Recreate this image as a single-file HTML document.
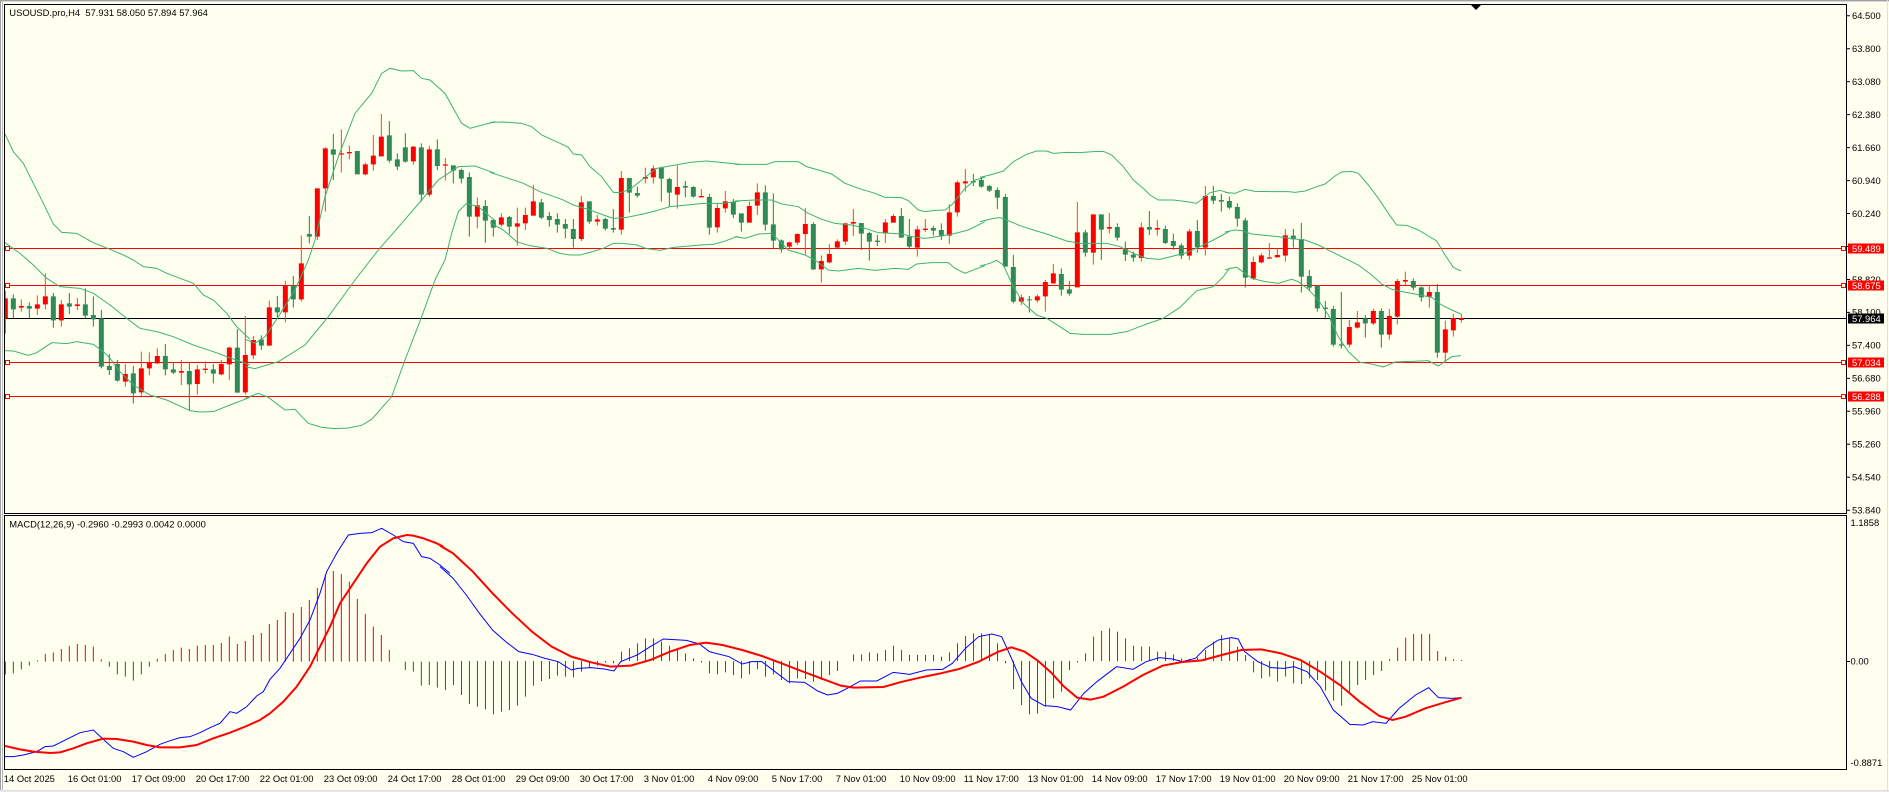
<!DOCTYPE html>
<html><head><meta charset="utf-8"><style>
html,body{margin:0;padding:0;background:#FFFFF0;}
svg{display:block;}
svg path,svg polyline,svg line,svg rect{vector-effect:non-scaling-stroke;}
text{font-family:"Liberation Sans",sans-serif;font-size:9.4px;fill:#000;}
</style></head><body>
<svg width="1889" height="792" viewBox="0 0 1889 792" xmlns="http://www.w3.org/2000/svg">
<defs>
<clipPath id="cm"><rect x="5" y="5" width="1841" height="508"/></clipPath>
<clipPath id="cd"><rect x="5" y="516" width="1841" height="253"/></clipPath>
</defs>
<rect x="0" y="0" width="1889" height="792" fill="#FFFFF0"/>
<line x1="0" y1="0.5" x2="1889" y2="0.5" stroke="#A0A0A0"/>
<line x1="0" y1="1.5" x2="1889" y2="1.5" stroke="#D8D8D8"/>
<line x1="0.5" y1="0" x2="0.5" y2="792" stroke="#A0A0A0"/>
<line x1="2.5" y1="0" x2="2.5" y2="792" stroke="#B8B8B8"/>
<line x1="0" y1="790.5" x2="1889" y2="790.5" stroke="#E0E0E0"/>
<line x1="0" y1="791.5" x2="1889" y2="791.5" stroke="#E8E8E8"/>
<line x1="1887.5" y1="0" x2="1887.5" y2="792" stroke="#E0E0E0"/>

<!-- MAIN PANEL -->
<g clip-path="url(#cm)">
<g stroke-width="1" fill="none">
<line x1="5" y1="248.5" x2="1846" y2="248.5" stroke="#FF0000"/>
<line x1="5" y1="285.5" x2="1846" y2="285.5" stroke="#FF0000"/>
<line x1="5" y1="318.5" x2="1846" y2="318.5" stroke="#000000"/>
<line x1="5" y1="362.5" x2="1846" y2="362.5" stroke="#FF0000"/>
<line x1="5" y1="396.5" x2="1846" y2="396.5" stroke="#FF0000"/>
</g>
<g stroke="#FF0000" fill="#FFFFF0">
<rect x="5.5" y="246.5" width="4" height="4"/><rect x="1841.5" y="246.5" width="4" height="4"/>
<rect x="5.5" y="283.5" width="4" height="4"/><rect x="1841.5" y="283.5" width="4" height="4"/>
<rect x="5.5" y="360.5" width="4" height="4"/><rect x="1841.5" y="360.5" width="4" height="4"/>
<rect x="5.5" y="394.5" width="4" height="4"/><rect x="1841.5" y="394.5" width="4" height="4"/>
</g>

<!-- zoom6 region -->
<g transform="translate(0,60) scale(0.333333)">
<path stroke="#228B22" fill="none" d="M40 703V775 M88 727V775 M160 699V803 M208 699V762 M256 685V775 M280 709V800 M304 750V925 M328 882V945 M352 900V965 M400 918V1030 M496 852V946 M520 908V942 M568 908V1052 M640 912V970 M712 807V998"/>
<path stroke="#FF4500" fill="none" d="M16 693V820 M64 718V755 M112 706V765 M136 640V748 M184 720V800 M232 714V750 M376 912V980 M424 875V1012 M448 877V946 M472 865V912 M544 900V975 M592 915V1004 M616 904V940 M664 900V946 M688 860V960 M736 768V1004"/>
<path fill="#2E8B57" d="M32.5 715h15V748h-15Z M80.5 738h15V746h-15Z M152.5 709h15V781h-15Z M200.5 730h15V740h-15Z M248.5 733h15V767h-15Z M272.5 765h15V778h-15Z M296.5 775h15V920h-15Z M320.5 918h15V930h-15Z M344.5 912h15V962h-15Z M392.5 940h15V1000h-15Z M488.5 888h15V928h-15Z M512.5 928h15V938h-15Z M560.5 933h15V973h-15Z M632.5 928h15V941h-15Z M704.5 863h15V998h-15Z"/>
<path fill="#FF0000" d="M8.5 715h15V775h-15Z M56.5 738h15V743h-15Z M104.5 733h15V746h-15Z M128.5 709h15V733h-15Z M176.5 733h15V781h-15Z M224.5 733h15V738h-15Z M368.5 942h15V965h-15Z M416.5 925h15V997h-15Z M440.5 908h15V925h-15Z M464.5 888h15V910h-15Z M536.5 933h15V938h-15Z M584.5 928h15V972h-15Z M608.5 926h15V930h-15Z M656.5 912h15V943h-15Z M680.5 863h15V913h-15Z M728.5 885h15V997h-15Z"/>
<g stroke="#3CB371" fill="none">
<polyline points="15,222 40,275 70,310 100,370 130,430 160,492 185,517 230,520 280,548 330,568 370,585 400,600 430,620 470,625 500,640 540,655 580,670 610,705 640,720 680,760 710,800 750,838"/>
<polyline points="15,548 60,580 100,615 140,655 180,680 240,685 280,700 330,735 380,775 420,805 470,815 520,830 580,855 640,875 700,897 750,915"/>
<polyline points="15,872 40,873 85,886 110,878 155,848 200,851 230,845 280,853 310,875 330,895 360,935 400,975 450,1005 500,1020 570,1052 600,1056 640,1055 690,1035 750,1012"/>
</g>
</g>

<!-- zoom7 region -->
<g transform="translate(245,60) scale(0.333333)">
<path stroke="#228B22" fill="none" d="M49 826V870 M97 708V772 M145 648V743 M193 468V550 M265 222V360 M337 273V343 M433 183V308 M457 280V330 M481 220V308 M529 250V425 M577 238V330 M625 316V370 M649 326V370 M673 337V530 M721 420V548 M745 478V530"/>
<path stroke="#FF4500" fill="none" d="M25 828V897 M73 722V857 M121 662V787 M169 526V725 M217 385V540 M241 262V455 M289 208V338 M313 256V298 M361 308V346 M385 225V332 M409 162V289 M505 258V314 M553 258V410 M601 294V362 M697 412V505"/>
<path fill="#2E8B57" d="M41.5 838h15V857h-15Z M89.5 742h15V757h-15Z M137.5 677h15V718h-15Z M185.5 522h15V530h-15Z M257.5 268h15V284h-15Z M329.5 273h15V343h-15Z M425.5 226h15V302h-15Z M449.5 298h15V320h-15Z M473.5 262h15V305h-15Z M521.5 262h15V404h-15Z M569.5 268h15V318h-15Z M617.5 316h15V332h-15Z M641.5 330h15V356h-15Z M665.5 351h15V470h-15Z M713.5 438h15V482h-15Z M737.5 480h15V503h-15Z"/>
<path fill="#FF0000" d="M17.5 840h15V886h-15Z M65.5 742h15V857h-15Z M113.5 677h15V757h-15Z M161.5 610h15V718h-15Z M209.5 385h15V530h-15Z M233.5 265h15V385h-15Z M281.5 280h15V284h-15Z M305.5 276h15V280h-15Z M353.5 313h15V343h-15Z M377.5 287h15V313h-15Z M401.5 230h15V289h-15Z M497.5 260h15V304h-15Z M545.5 268h15V404h-15Z M593.5 313h15V317h-15Z M689.5 436h15V470h-15Z"/>
<g stroke="#3CB371" fill="none">
<polyline points="0,838 30,850 60,830 100,770 150,690 190,600 210,540 240,410 280,290 330,160 380,100 410,40 435,25 470,33 505,32 530,55 555,60 600,100 650,190 675,205 750,185"/>
<polyline points="0,920 30,926 100,905 180,855 250,770 330,660 400,570 470,490 530,420 580,360 640,320 690,318 750,340"/>
<polyline points="0,1015 40,1000 70,1012 120,1050 150,1048 190,1090 230,1102 270,1106 310,1104 350,1096 380,1078 440,1010 480,900 530,770 570,660 600,600 620,520 640,455 665,430 700,440 750,482"/>
</g>
</g>

<!-- zoom8 region -->
<g transform="translate(490,60) scale(0.333333)">
<path stroke="#228B22" fill="none" d="M58 468V522 M154 417V477 M178 456V500 M202 460V518 M226 477V535 M250 477V563 M298 424V491 M346 474V512 M370 447V518 M418 354V458 M442 380V413 M514 320V425 M538 353V441 M586 363V412 M610 378V413 M658 402V524 M730 417V474"/>
<path stroke="#FF4500" fill="none" d="M34 460V500 M82 443V557 M106 443V510 M130 375V467 M274 408V543 M322 465V497 M394 333V524 M466 323V370 M490 316V371 M562 316V446 M634 387V412 M682 432V518 M706 393V458"/>
<path fill="#2E8B57" d="M50.5 471h15V500h-15Z M146.5 427h15V473h-15Z M170.5 468h15V480h-15Z M194.5 477h15V494h-15Z M218.5 492h15V506h-15Z M242.5 507h15V537h-15Z M290.5 424h15V485h-15Z M338.5 477h15V506h-15Z M362.5 504h15V509h-15Z M410.5 354h15V398h-15Z M434.5 399h15V407h-15Z M506.5 323h15V356h-15Z M530.5 357h15V398h-15Z M578.5 378h15V383h-15Z M602.5 381h15V410h-15Z M650.5 411h15V503h-15Z M722.5 426h15V464h-15Z"/>
<path fill="#FF0000" d="M26.5 472h15V494h-15Z M74.5 490h15V500h-15Z M98.5 465h15V490h-15Z M122.5 424h15V467h-15Z M266.5 427h15V537h-15Z M314.5 478h15V485h-15Z M386.5 354h15V509h-15Z M458.5 351h15V356h-15Z M482.5 325h15V352h-15Z M554.5 381h15V404h-15Z M626.5 408h15V412h-15Z M674.5 444h15V502h-15Z M698.5 424h15V445h-15Z"/>
<g stroke="#3CB371" fill="none">
<polyline points="0,187 40,186 95,190 125,200 155,225 210,250 235,262 250,282 275,285 300,320 335,350 370,397 390,398 420,388 455,360 500,325 540,318 600,307 650,303 700,308 750,313"/>
<polyline points="0,337 40,350 100,370 150,395 215,418 250,435 300,450 340,465 370,475 410,472 460,462 500,452 540,440 580,436 640,430 700,430 750,423"/>
<polyline points="0,488 40,510 80,545 120,557 170,565 210,580 240,585 270,585 300,577 340,565 370,550 400,550 440,555 470,566 510,571 550,562 600,558 630,555 670,553 700,545 740,530 750,532"/>
</g>
</g>

<!-- zoom9 region -->
<g transform="translate(735,60) scale(0.333333)">
<path stroke="#228B22" fill="none" d="M19 460V515 M91 376V512 M115 400V565 M139 538V578 M235 487V630 M379 489V570 M403 515V602 M427 525V558 M499 444V533 M523 477V565 M595 498V527 M619 490V540 M715 342V378"/>
<path stroke="#FF4500" fill="none" d="M43 425V488 M67 370V465 M163 545V565 M187 520V555 M211 444V583 M259 586V668 M283 552V610 M307 538V565 M331 488V555 M355 447V528 M451 477V549 M475 462V488 M547 498V590 M571 477V516 M643 432V552 M667 362V470 M691 327V395"/>
<path fill="#2E8B57" d="M11.5 460h15V488h-15Z M83.5 397h15V494h-15Z M107.5 493h15V542h-15Z M131.5 541h15V568h-15Z M227.5 492h15V628h-15Z M371.5 489h15V521h-15Z M395.5 519h15V545h-15Z M419.5 542h15V546h-15Z M491.5 468h15V533h-15Z M515.5 530h15V560h-15Z M587.5 504h15V512h-15Z M611.5 510h15V527h-15Z M707.5 363h15V367h-15Z"/>
<path fill="#FF0000" d="M35.5 438h15V488h-15Z M59.5 397h15V437h-15Z M155.5 547h15V560h-15Z M179.5 522h15V548h-15Z M203.5 492h15V522h-15Z M251.5 603h15V628h-15Z M275.5 582h15V607h-15Z M299.5 544h15V563h-15Z M323.5 490h15V545h-15Z M347.5 486h15V491h-15Z M443.5 487h15V520h-15Z M467.5 468h15V488h-15Z M539.5 508h15V563h-15Z M563.5 506h15V510h-15Z M635.5 457h15V527h-15Z M659.5 367h15V457h-15Z M683.5 364h15V370h-15Z"/>
<g stroke="#3CB371" fill="none">
<polyline points="0,313 95,313 120,305 190,305 215,320 250,330 290,342 330,370 370,385 420,400 450,412 500,413 520,422 550,450 570,455 600,451 630,450 650,435 690,385 720,360 750,352"/>
<polyline points="0,423 60,420 110,420 140,432 190,440 220,460 260,478 300,490 350,495 390,505 430,518 470,520 500,522 530,530 570,535 620,528 660,520 700,510 750,485"/>
<polyline points="0,530 30,535 70,522 110,520 160,570 210,585 240,600 280,630 310,633 370,625 420,631 480,625 520,628 545,612 590,608 640,608 660,625 690,640 720,628 750,617"/>
</g>
</g>

<!-- zoom10 region -->
<g transform="translate(980,60) scale(0.333333)">
<path stroke="#228B22" fill="none" d="M4 352V383 M28 375V396 M52 382V447 M76 402V620 M100 585V730 M148 708V758 M244 625V707 M268 663V707 M316 510V590 M364 463V600 M412 490V542 M436 545V603 M460 575V605 M508 453V525 M556 497V552 M580 521V570 M604 550V597 M652 480V578 M700 378V432 M724 402V455"/>
<path stroke="#FF4500" fill="none" d="M124 703V735 M172 703V728 M196 660V755 M220 612V672 M292 426V682 M340 463V614 M388 459V521 M484 487V605 M532 480V527 M628 507V600 M676 378V587"/>
<path fill="#2E8B57" d="M-3.5 360h15V380h-15Z M20.5 378h15V392h-15Z M44.5 390h15V413h-15Z M68.5 411h15V620h-15Z M92.5 621h15V725h-15Z M140.5 718h15V721h-15Z M236.5 642h15V689h-15Z M260.5 688h15V701h-15Z M308.5 517h15V578h-15Z M356.5 463h15V509h-15Z M404.5 501h15V533h-15Z M428.5 567h15V584h-15Z M452.5 584h15V593h-15Z M500.5 501h15V509h-15Z M548.5 507h15V549h-15Z M572.5 543h15V558h-15Z M596.5 556h15V587h-15Z M644.5 513h15V562h-15Z M692.5 408h15V422h-15Z M716.5 420h15V425h-15Z"/>
<path fill="#FF0000" d="M116.5 712h15V725h-15Z M164.5 709h15V721h-15Z M188.5 666h15V709h-15Z M212.5 640h15V670h-15Z M284.5 517h15V682h-15Z M332.5 463h15V578h-15Z M380.5 501h15V506h-15Z M476.5 502h15V594h-15Z M524.5 504h15V509h-15Z M620.5 514h15V587h-15Z M668.5 408h15V563h-15Z"/>
<g stroke="#3CB371" fill="none">
<polyline points="0,352 30,345 70,333 100,305 140,283 170,273 200,273 220,280 260,277 300,278 340,275 370,274 395,285 430,320 460,360 490,385 510,405 535,420 580,420 620,425 650,430 690,398 720,391 750,400"/>
<polyline points="0,485 40,475 60,473 80,480 120,497 160,510 200,522 260,543 300,550 340,550 380,550 420,560 460,580 500,595 540,598 580,588 620,578 660,560 700,540 750,513"/>
<polyline points="0,618 30,610 50,601 70,615 100,680 130,730 170,765 200,775 240,800 270,820 310,823 390,823 440,815 500,792 550,775 600,742 650,692 700,680 730,650 750,623"/>
</g>
</g>

<!-- zoom11 region -->
<g transform="translate(1225,60) scale(0.333333)">
<path stroke="#228B22" fill="none" d="M13 410V448 M37 430V500 M61 474V683 M205 507V563 M229 489V698 M253 630V693 M277 677V755 M301 723V778 M325 738V860 M349 696V866 M421 765V833 M469 745V863 M565 655V691 M589 680V725 M637 672V893"/>
<path stroke="#FF4500" fill="none" d="M85 590V660 M109 580V610 M133 549V596 M157 566V592 M181 507V605 M373 780V863 M397 753V806 M445 746V795 M493 747V839 M517 657V793 M541 635V676 M613 677V743 M661 782V908 M685 762V830 M709 762V788"/>
<path fill="#2E8B57" d="M5.5 423h15V443h-15Z M29.5 441h15V476h-15Z M53.5 481h15V653h-15Z M197.5 527h15V538h-15Z M221.5 537h15V650h-15Z M245.5 648h15V683h-15Z M269.5 677h15V745h-15Z M293.5 743h15V747h-15Z M317.5 747h15V854h-15Z M341.5 853h15V857h-15Z M413.5 775h15V790h-15Z M461.5 753h15V824h-15Z M557.5 663h15V683h-15Z M581.5 682h15V712h-15Z M629.5 696h15V878h-15Z"/>
<path fill="#FF0000" d="M77.5 606h15V655h-15Z M101.5 586h15V607h-15Z M125.5 592h15V596h-15Z M149.5 585h15V592h-15Z M173.5 526h15V587h-15Z M365.5 801h15V854h-15Z M389.5 787h15V803h-15Z M437.5 753h15V790h-15Z M485.5 768h15V824h-15Z M509.5 663h15V770h-15Z M533.5 660h15V665h-15Z M605.5 696h15V710h-15Z M653.5 808h15V878h-15Z M677.5 774h15V811h-15Z M701.5 774h15V780h-15Z"/>
<g stroke="#3CB371" fill="none">
<polyline points="0,397 30,400 60,388 90,394 140,395 190,395 210,397 240,393 270,382 300,372 330,348 350,336 380,334 400,340 430,375 460,415 490,460 515,495 545,496 580,510 610,528 635,543 660,585 685,622 708,633"/>
<polyline points="0,516 30,510 50,512 80,522 120,526 160,530 200,536 240,540 280,555 320,575 360,595 400,615 440,645 470,672 500,688 530,695 560,700 590,706 620,712 650,735 680,750 708,762"/>
<polyline points="0,630 15,625 35,622 60,640 80,655 120,665 160,670 200,658 220,665 250,688 280,720 310,765 340,830 370,875 405,907 440,912 475,921 510,906 560,904 610,902 640,918 680,890 708,887"/>
</g>
</g>
</g>

<!-- chart shift marker -->
<polygon points="1470,4 1482,4 1476,10" fill="#000"/>

<!-- MACD PANEL -->
<g clip-path="url(#cd)">
<g transform="translate(0,490) scale(0.333333)">
<path stroke="#FF0000" fill="none" d="M112 515V511 M136 515V492 M160 515V488 M184 515V477 M208 515V468 M232 515V462 M256 515V465 M280 515V470 M304 515V508 M472 515V507 M496 515V492 M520 515V480 M544 515V473 M568 515V477 M592 515V467 M616 515V465 M640 515V465 M664 515V459 M688 515V440 M712 515V462 M736 515V453 M760 515V435 M784 515V429 M808 515V402 M832 515V390 M856 515V366 M880 515V369 M904 515V351 M928 515V330 M952 515V294 M976 515V253 M1000 515V243 M1024 515V252 M1048 515V275 M1072 515V327 M1096 515V372 M1120 515V410 M1144 515V435 M1168 515V480"/>
<path stroke="#008000" fill="none" d="M16 515V553 M40 515V550 M64 515V538 M88 515V527 M328 515V530 M352 515V553 M376 515V560 M400 515V572 M424 515V553 M448 515V530 M1216 515V540 M1240 515V545 M1264 515V587 M1288 515V585 M1312 515V593"/>
<polyline fill="none" stroke="#0000FF" stroke-width="1" points="15,800 40,800 70,795 110,785 135,770 160,768 200,748 240,728 280,720 310,748 340,775 370,785 400,802 440,785 480,763 510,752 540,743 570,740 600,728 630,713 660,700 690,665 710,670 740,650 770,618 790,605 810,568 840,535 870,490 900,445 930,390 960,310 980,245 1010,190 1045,135 1080,130 1115,128 1145,115 1180,135 1210,155 1240,160 1265,200 1290,205 1320,225 1350,250"/>
<polyline fill="none" stroke="#FF0000" stroke-width="2" points="15,768 60,778 100,785 150,789 180,787 220,775 260,760 310,746 350,747 400,755 440,765 480,772 540,772 590,765 640,745 690,728 740,708 780,690 810,670 850,635 890,590 930,530 960,470 990,410 1020,340 1060,280 1100,220 1140,170 1180,145 1220,135 1240,137 1270,145 1310,160 1330,170"/>
</g>
<g transform="translate(440,515) scale(0.6569,0.333333)">
<path stroke="#FF0000" fill="none" d="M276.3 438V410 M288.4 438V400 M300.6 438V385 M312.8 438V370 M325 438V370 M337.2 438V380 M349.3 438V392 M361.5 438V405 M373.7 438V415 M385.9 438V430 M629.5 438V418 M641.7 438V418 M653.8 438V412 M666 438V415 M678.2 438V405 M690.4 438V392 M702.6 438V405 M714.7 438V420 M726.9 438V420 M739.1 438V420 M751.3 438V420 M763.5 438V425 M775.6 438V412 M787.8 438V385 M800 438V363 M812.2 438V355 M824.4 438V355 M836.5 438V360 M848.7 438V385 M982.7 438V415 M994.9 438V365 M1007.1 438V348 M1019.2 438V340 M1031.4 438V350 M1043.6 438V370 M1055.8 438V392 M1068 438V395 M1080.1 438V395 M1092.3 438V410 M1104.5 438V410 M1116.7 438V418 M1128.9 438V430 M1141 438V432 M1153.2 438V428 M1165.4 438V405 M1177.6 438V380 M1189.8 438V360 M1202 438V370 M1214.1 438V395 M1226.3 438V420 M1445.6 438V432 M1457.8 438V398 M1470 438V368 M1482.1 438V357 M1494.3 438V357 M1506.5 438V357 M1518.7 438V408 M1530.9 438V425 M1543 438V433 M1555.2 438V435"/>
<path stroke="#008000" fill="none" d="M8.3 438V525 M20.5 438V510 M32.7 438V540 M44.8 438V567 M57 438V575 M69.2 438V583 M81.4 438V598 M93.6 438V590 M105.7 438V585 M117.9 438V572 M130.1 438V545 M142.3 438V512 M154.5 438V498 M166.6 438V492 M178.8 438V482 M191 438V485 M203.2 438V487 M215.4 438V470 M227.5 438V457 M239.7 438V452 M251.9 438V442 M264.1 438V445 M398.1 438V442 M410.2 438V475 M422.4 438V478 M434.6 438V472 M446.8 438V480 M459 438V490 M471.1 438V478 M483.3 438V462 M495.5 438V485 M507.7 438V478 M519.9 438V495 M532 438V505 M544.2 438V490 M556.4 438V492 M568.6 438V500 M580.8 438V495 M592.9 438V480 M605.1 438V468 M860.9 438V445 M873.1 438V522 M885.3 438V570 M897.4 438V598 M909.6 438V596 M921.8 438V575 M934 438V550 M946.2 438V530 M958.3 438V465 M970.5 438V442 M1238.5 438V472 M1250.7 438V490 M1262.9 438V485 M1275 438V500 M1287.2 438V485 M1299.4 438V505 M1311.6 438V507 M1323.8 438V490 M1335.9 438V495 M1348.1 438V527 M1360.3 438V557 M1372.5 438V572 M1384.7 438V538 M1396.9 438V510 M1409 438V495 M1421.2 438V480 M1433.4 438V468"/>
<polyline fill="none" stroke="#0000FF" stroke-width="1" points="0,155 20,190 40,240 60,295 80,345 100,380 120,410 140,418 160,430 180,440 200,465 210,460 230,458 250,462 265,468 275,440 300,420 320,395 340,372 375,376 395,387 410,410 440,425 460,447 475,440 490,440 510,470 530,500 555,502 575,528 590,540 605,535 620,520 640,498 665,498 690,472 715,478 740,465 765,463 780,445 800,400 820,365 840,357 855,365 870,430 885,500 900,550 920,572 940,575 960,585 980,535 1000,500 1030,455 1055,463 1075,440 1095,428 1115,432 1130,440 1150,430 1165,400 1185,375 1205,368 1215,372 1225,410 1245,440 1265,458 1285,460 1300,455 1320,470 1340,515 1360,585 1385,628 1405,630 1420,620 1440,625 1460,580 1485,540 1505,518 1520,548 1540,550 1555,548"/>
<polyline fill="none" stroke="#FF0000" stroke-width="2" points="0,92 20,115 50,170 80,235 110,295 140,350 170,395 200,425 230,442 260,455 290,452 320,435 350,410 380,390 405,383 430,390 460,405 490,423 520,445 550,468 580,490 610,512 630,518 675,516 700,502 730,488 760,476 790,462 820,440 850,410 870,397 890,410 910,437 930,472 950,515 970,548 990,554 1010,545 1040,515 1070,480 1100,452 1130,441 1160,436 1190,420 1220,405 1250,403 1280,415 1310,435 1340,470 1370,510 1400,560 1430,603 1450,615 1470,605 1500,580 1530,562 1555,548"/>
</g>
</g>

<!-- frames -->
<rect x="4.5" y="4.5" width="1842" height="509" fill="none" stroke="#000"/>
<rect x="4.5" y="515.5" width="1842" height="254" fill="none" stroke="#000"/>

<!-- price axis ticks -->
<path stroke="#000" fill="none" d="M1847 15.7h3 M1847 48.7h3 M1847 81.6h3 M1847 114.6h3 M1847 147.6h3 M1847 180.6h3 M1847 213.5h3 M1847 246.5h3 M1847 279.5h3 M1847 312.4h3 M1847 345.4h3 M1847 378.4h3 M1847 411.3h3 M1847 444.3h3 M1847 477.3h3 M1847 510.2h3 M1847 661.5h3"/>
<g>
<text x="1852" y="19">64.500</text>
<text x="1852" y="52">63.800</text>
<text x="1852" y="84.9">63.080</text>
<text x="1852" y="117.9">62.380</text>
<text x="1852" y="150.9">61.660</text>
<text x="1852" y="183.9">60.940</text>
<text x="1852" y="216.8">60.240</text>
<text x="1852" y="249.8">59.540</text>
<text x="1852" y="282.8">58.820</text>
<text x="1852" y="315.7">58.100</text>
<text x="1852" y="348.7">57.400</text>
<text x="1852" y="381.7">56.680</text>
<text x="1852" y="414.6">55.960</text>
<text x="1852" y="447.6">55.260</text>
<text x="1852" y="480.6">54.540</text>
<text x="1852" y="513.6">53.840</text>
</g>
<!-- level labels -->
<rect x="1848" y="243.5" width="36" height="10" fill="#FF0000"/>
<rect x="1848" y="280.5" width="36" height="10" fill="#FF0000"/>
<rect x="1848" y="313.5" width="36" height="10" fill="#000000"/>
<rect x="1848" y="357.5" width="36" height="10" fill="#FF0000"/>
<rect x="1848" y="391.5" width="36" height="10" fill="#FF0000"/>
<g>
<text x="1852" y="251.9" style="fill:#fff">59.489</text>
<text x="1852" y="288.9" style="fill:#fff">58.675</text>
<text x="1852" y="321.9" style="fill:#fff">57.964</text>
<text x="1852" y="365.9" style="fill:#fff">57.034</text>
<text x="1852" y="399.9" style="fill:#fff">56.288</text>
</g>
<!-- MACD axis -->
<text x="1850.5" y="526">1.1858</text>
<text x="1850.5" y="664.5">0.00</text>
<text x="1850.5" y="766">-0.8871</text>

<!-- headers -->
<text x="9.3" y="16">USOUSD.pro,H4&#160;&#160;57.931 58.050 57.894 57.964</text>
<text x="9.3" y="527.5">MACD(12,26,9) -0.2960 -0.2993 0.0042 0.0000</text>

<!-- date axis -->
<g>
<text x="3.8" y="782">14 Oct 2025</text>
<text x="67.8" y="782">16 Oct 01:00</text>
<text x="131.8" y="782">17 Oct 09:00</text>
<text x="195.8" y="782">20 Oct 17:00</text>
<text x="259.8" y="782">22 Oct 01:00</text>
<text x="323.8" y="782">23 Oct 09:00</text>
<text x="387.8" y="782">24 Oct 17:00</text>
<text x="451.8" y="782">28 Oct 01:00</text>
<text x="515.8" y="782">29 Oct 09:00</text>
<text x="579.8" y="782">30 Oct 17:00</text>
<text x="643.8" y="782">3 Nov 01:00</text>
<text x="707.8" y="782">4 Nov 09:00</text>
<text x="771.8" y="782">5 Nov 17:00</text>
<text x="835.8" y="782">7 Nov 01:00</text>
<text x="899.8" y="782">10 Nov 09:00</text>
<text x="963.8" y="782">11 Nov 17:00</text>
<text x="1027.8" y="782">13 Nov 01:00</text>
<text x="1091.8" y="782">14 Nov 09:00</text>
<text x="1155.8" y="782">17 Nov 17:00</text>
<text x="1219.8" y="782">19 Nov 01:00</text>
<text x="1283.8" y="782">20 Nov 09:00</text>
<text x="1347.8" y="782">21 Nov 17:00</text>
<text x="1411.8" y="782">25 Nov 01:00</text>
</g>
</svg>
</body></html>
